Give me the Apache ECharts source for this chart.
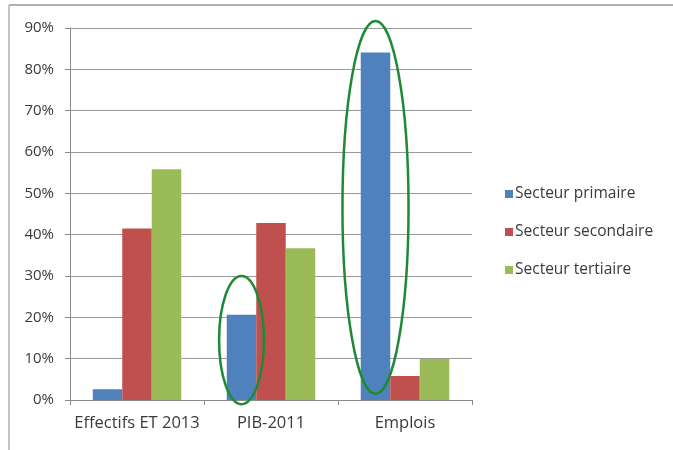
<!DOCTYPE html>
<html>
<head>
<meta charset="utf-8">
<script src="https://cdn.jsdelivr.net/npm/echarts@6/dist/echarts.min.js"></script>
<style>
html,body{margin:0;padding:0;background:#fff;}
#c{width:673px;height:450px;}
</style>
</head>
<body>
<div id="c"></div>
<script>
var categories = ['Effectifs ET 2013', 'PIB-2011', 'Emplois'];
var seriesNames = ['Secteur primaire', 'Secteur secondaire', 'Secteur tertiaire'];
var primaire = [2.6, 20.6, 84.1];
var secondaire = [41.5, 42.8, 5.8];
var tertiaire = [55.8, 36.7, 9.9];
var yTicks = [0, 10, 20, 30, 40, 50, 60, 70, 80, 90];
// highlighted ranges (value %) around the "Secteur primaire" bars
var highlightCats = ['PIB-2011', 'Emplois'];
var highlightTop = [30, 91.7];
var highlightBottom = [-1, 1.5];

var colors = ['#4F81BD', '#C0504D', '#9BBB59'];
var FONT = 'Open Sans';
var TXT = '#3a3a3a';

var chart = echarts.init(document.getElementById('c'), null, {renderer: 'canvas'});
var values = [primaire, secondaire, tertiaire];
var option = {
  animation: false,
  color: colors,
  grid: {left: 70, right: 201, top: 28, bottom: 50, containLabel: false},
  legend: {
    orient: 'vertical',
    left: 500, top: 181,
    itemWidth: 8, itemHeight: 8, itemGap: 22,
    icon: 'rect',
    data: seriesNames,
    textStyle: {fontFamily: FONT, fontSize: 15.5, color: TXT, padding: [0,0,0,-3]}
  },
  xAxis: {
    type: 'category',
    data: categories,
    axisLine: {lineStyle: {color: '#8c8c8c', width: 1}},
    axisTick: {show: true, length: 5, alignWithLabel: false, lineStyle: {color: '#8c8c8c'}},
    axisLabel: {fontFamily: FONT, fontSize: 16.5, color: TXT, margin: 15, interval: 0}
  },
  yAxis: {
    type: 'value',
    min: yTicks[0], max: yTicks[yTicks.length - 1], interval: 10,
    axisLine: {show: true, lineStyle: {color: '#8c8c8c', width: 1}},
    axisTick: {show: true, length: 5, lineStyle: {color: '#8c8c8c'}},
    splitLine: {lineStyle: {color: '#9a9a9a', width: 1}},
    axisLabel: {fontFamily: FONT, fontSize: 15, color: TXT, margin: 16, formatter: '{value}%'}
  },
  series: seriesNames.map(function (n, i) {
    return {
      name: n, type: 'bar', data: values[i],
      barWidth: 29.5, barGap: '0%'
    };
  }),
  graphic: [
    {type: 'line', shape: {x1: 9, y1: 5, x2: 673, y2: 5}, style: {stroke: '#b0b0b0', lineWidth: 2}, silent: true},
    {type: 'line', shape: {x1: 9, y1: 5, x2: 9, y2: 450}, style: {stroke: '#b0b0b0', lineWidth: 1.5}, silent: true}
  ]
};
chart.setOption(option);

// ellipses around the highlighted primary-sector bars
var data0 = chart.getModel().getSeriesByIndex(0).getData();
var ellipses = highlightCats.map(function (cat, k) {
  var idx = categories.indexOf(cat);
  var lay = data0.getItemLayout(idx);
  var cx = lay.x + lay.width / 2;
  var yTop = chart.convertToPixel({yAxisIndex: 0}, highlightTop[k]);
  var yBot = chart.convertToPixel({yAxisIndex: 0}, highlightBottom[k]);
  var rx = k === 0 ? lay.width * 0.76 : lay.width * 1.12;
  return {
    type: 'ellipse',
    shape: {cx: cx, cy: (yTop + yBot) / 2, rx: rx, ry: Math.abs(yBot - yTop) / 2},
    style: {fill: null, stroke: '#1f8a35', lineWidth: 2.5},
    z: 100, silent: true
  };
});
chart.setOption({graphic: option.graphic.concat(ellipses)});
</script>
</body>
</html>
